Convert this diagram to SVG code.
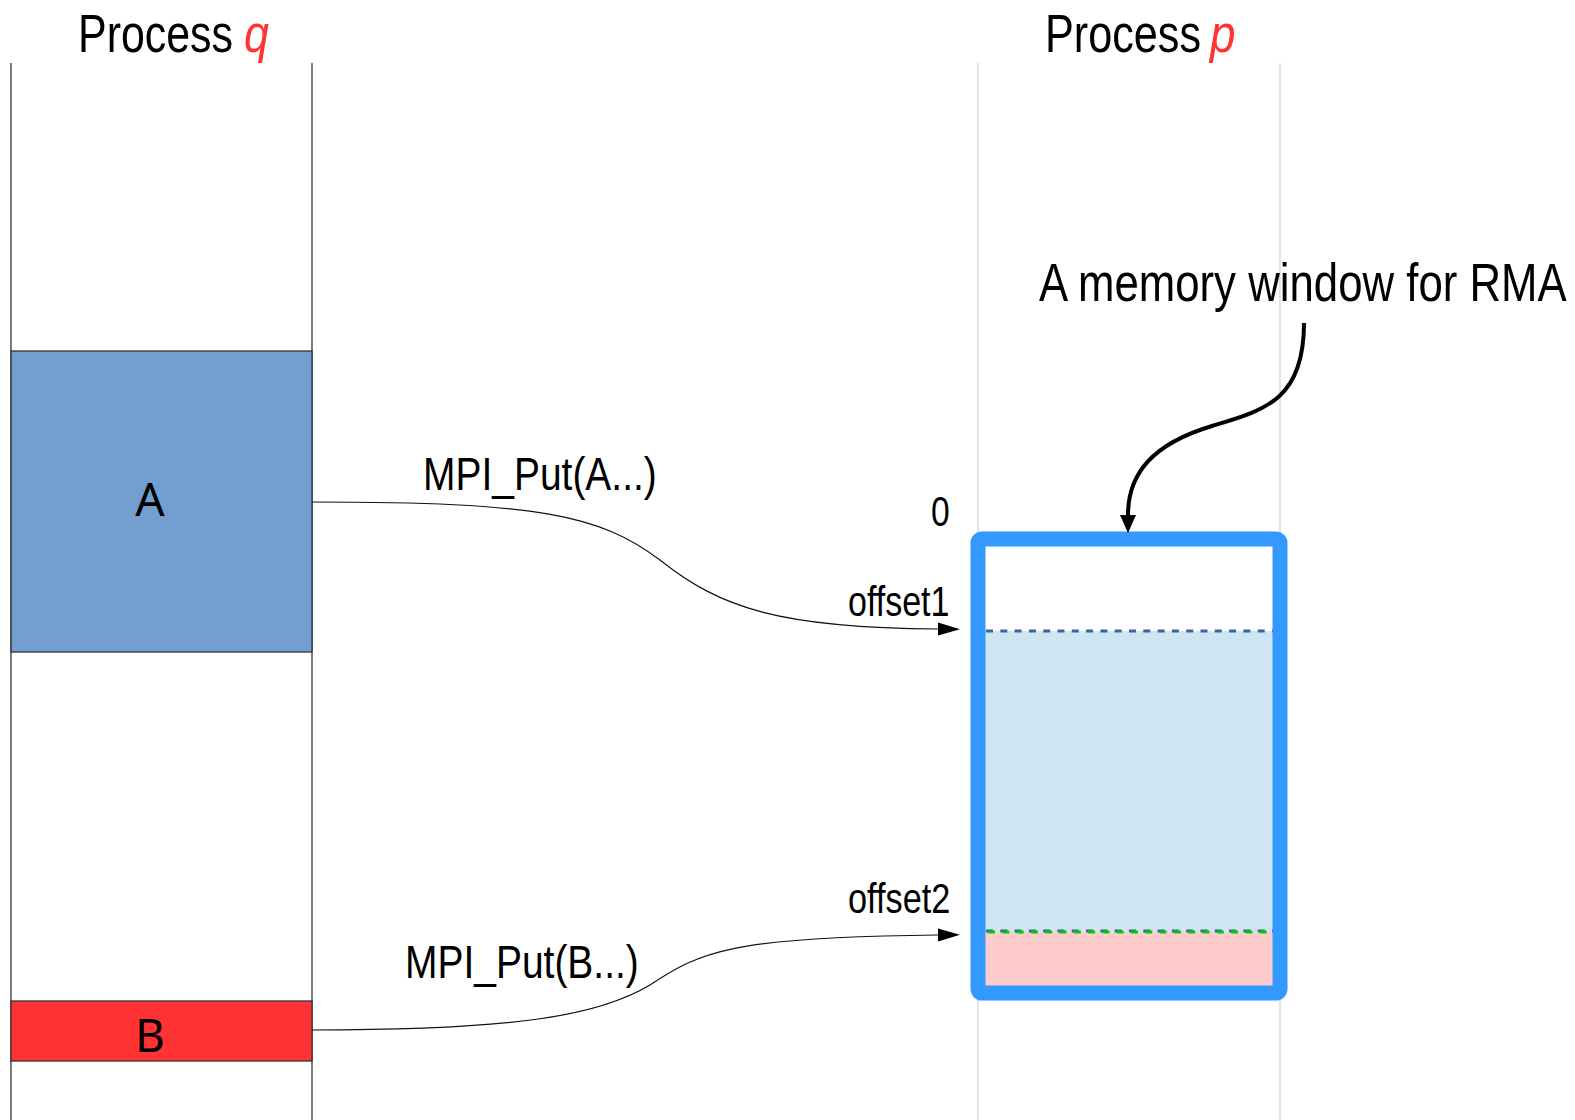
<svg xmlns="http://www.w3.org/2000/svg" width="1575" height="1120" viewBox="0 0 1575 1120">
  <style>
    .narrow { font-family: "Liberation Sans", Arial, sans-serif; fill: #000; }
    .var { fill: #ff3333; font-style: italic; }
    .blk { font-family: "Noto Sans", "DejaVu Sans", sans-serif; font-size: 46px; fill: #000; text-anchor: middle; }
    .lane { stroke: #333; stroke-width: 1.3; }
    .lane-p { stroke: #d4d4d4; stroke-width: 1.3; }
    .flow { fill: none; stroke: #111; stroke-width: 1.2; }
    .dash { stroke-width: 3; stroke-dasharray: 7 7.3; }
  </style>
  <defs>
    <marker id="tri" markerUnits="userSpaceOnUse" markerWidth="22" markerHeight="14" refX="0" refY="7" orient="auto">
      <path d="M0,0.5 L22,7 L0,13.5 z" fill="#000"/>
    </marker>
    <marker id="tri-big" markerUnits="userSpaceOnUse" markerWidth="18" markerHeight="16" refX="0" refY="8" orient="auto">
      <path d="M0,0 L18,8 L0,16 z" fill="#000"/>
    </marker>
  </defs>
  <rect width="1575" height="1120" fill="#fff"/>

  <!-- process q lane (condensed lettering via horizontal scale) -->
  <g id="process-q">
    <text class="narrow" font-size="54" transform="translate(78,52) scale(0.795,1)">Process</text>
    <text class="narrow var" font-size="54" transform="translate(244,52) scale(0.83,1)">q</text>
    <line class="lane" x1="11" y1="63" x2="11" y2="1120"/>
    <line class="lane" x1="312" y1="63" x2="312" y2="1120"/>
  </g>

  <!-- process p lane -->
  <g id="process-p">
    <text class="narrow" font-size="54" transform="translate(1045,52) scale(0.8,1)">Process</text>
    <text class="narrow var" font-size="54" transform="translate(1210,52) scale(0.85,1)">p</text>
    <line class="lane-p" x1="978" y1="63" x2="978" y2="1120"/>
    <line class="lane-p" x1="1280" y1="63" x2="1280" y2="1120"/>
  </g>

  <!-- buffer A -->
  <g id="buffer-a">
    <rect x="11" y="351" width="301" height="301" fill="#729fcf" stroke="#333" stroke-width="1.3"/>
    <text class="blk" x="150" y="516">A</text>
  </g>

  <!-- buffer B -->
  <g id="buffer-b">
    <rect x="11" y="1001" width="301" height="60" fill="#ff3333" stroke="#333" stroke-width="1.3"/>
    <text class="blk" x="150" y="1052">B</text>
  </g>

  <!-- RMA window on process p -->
  <g id="window">
    <rect x="985" y="546" width="288" height="86" fill="#fff"/>
    <rect x="985" y="631" width="288" height="301" fill="#cfe5f3"/>
    <rect x="985" y="932" width="288" height="54" fill="#ffcccc"/>
    <line class="dash" x1="986" y1="631" x2="1273" y2="631" stroke="#3465a4"/>
    <line class="dash" x1="986" y1="931" x2="1273" y2="931" stroke="#3465a4"/>
    <line class="dash" x1="988" y1="932" x2="1273" y2="932" stroke="#00cc00"/>
    <rect x="978" y="539" width="302" height="454" rx="4" fill="none" stroke="#3399ff" stroke-width="15"/>
  </g>

  <!-- offset labels -->
  <g id="offsets">
    <text class="narrow" font-size="42" transform="translate(931,526) scale(0.8,1)">0</text>
    <text class="narrow" font-size="42" transform="translate(848,616) scale(0.81,1)">offset1</text>
    <text class="narrow" font-size="42" transform="translate(848,913) scale(0.817,1)">offset2</text>
  </g>

  <!-- annotation -->
  <g id="note">
    <text class="narrow" font-size="53" transform="translate(1039,301) scale(0.826,1)">A memory window for RMA</text>
  </g>

  <!-- connectors -->
  <g id="connectors">
    <path class="flow" d="M312,502 C540,502 600,515 660,560 C720,608 780,628 938,629" marker-end="url(#tri)"/>
    <text class="narrow" font-size="47" transform="translate(423,490) scale(0.829,1)">MPI_Put(A...)</text>
    <path class="flow" d="M312,1030 C520,1030 600,1015 650,985 C700,952 730,937 938,935" marker-end="url(#tri)"/>
    <text class="narrow" font-size="47" transform="translate(405,978) scale(0.829,1)">MPI_Put(B...)</text>
    <path d="M1304,323 C1304,400 1265,410 1212,426 C1152,444 1128,474 1128,515" fill="none" stroke="#000" stroke-width="4" marker-end="url(#tri-big)"/>
  </g>
</svg>
